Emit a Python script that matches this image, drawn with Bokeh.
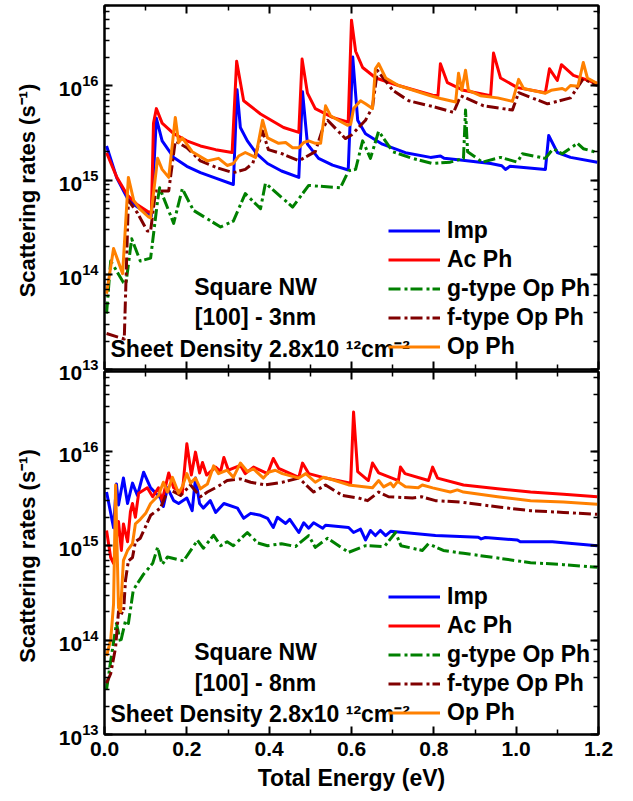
from bokeh.plotting import figure
from bokeh.models import (LinearAxis, LogAxis, FixedTicker, LogTicker, PrintfTickFormatter,
                          Legend, LegendItem, Label, Range1d)
from bokeh.layouts import column
from bokeh.embed import file_html
from bokeh.resources import INLINE

# ---------------- data (energy in eV, rate in 1/s) ----------------
# Top panel: [100] - 3nm
top_imp_e = [0.005, 0.03, 0.056, 0.08, 0.107, 0.114, 0.126, 0.14, 0.168, 0.2, 0.233, 0.27, 0.313,
             0.322, 0.33, 0.347, 0.37, 0.396, 0.43, 0.472, 0.481, 0.493, 0.52, 0.554, 0.592, 0.603,
             0.615, 0.634, 0.675, 0.731, 0.792, 0.816, 0.825, 0.87, 0.938, 0.965, 0.974, 0.985,
             1.071, 1.079, 1.10, 1.132, 1.197]
top_imp_r = [2.3e15, 1.05e15, 6.4e14, 5.2e14, 4.4e14, 4.2e14, 4.5e15, 2.6e15, 1.74e15, 1.4e15,
             1.2e15, 1.05e15, 9.0e14, 9.0e15, 3.6e15, 2.6e15, 1.9e15, 1.5e15, 1.25e15, 1.07e15,
             8.6e15, 2.4e15, 1.7e15, 1.44e15, 1.28e15, 2.0e16, 4.3e15, 3.1e15, 2.4e15, 1.95e15,
             1.74e15, 1.8e15, 1.7e15, 1.62e15, 1.5e15, 1.42e15, 1.3e15, 1.4e15, 1.3e15, 2.96e15,
             1.96e15, 1.74e15, 1.55e15]

top_ac_e = [0.005, 0.03, 0.056, 0.08, 0.107, 0.114, 0.119, 0.126, 0.14, 0.168, 0.2, 0.233, 0.27,
            0.31, 0.321, 0.338, 0.379, 0.435, 0.472, 0.48, 0.493, 0.512, 0.554, 0.592, 0.60, 0.61,
            0.627, 0.659, 0.714, 0.797, 0.81, 0.816, 0.833, 0.872, 0.938, 0.945, 0.962, 1.003,
            1.071, 1.081, 1.10, 1.11, 1.139, 1.197]
top_ac_r = [1.95e15, 1.07e15, 6.9e14, 5.5e14, 4.6e14, 4.6e14, 4.0e15, 5.7e15, 4.0e15, 3.1e15,
            2.6e15, 2.3e15, 2.1e15, 1.96e15, 1.8e16, 6.9e15, 5.0e15, 3.6e15, 3.2e15, 1.9e16,
            8.3e15, 5.7e15, 4.6e15, 4.1e15, 4.9e16, 2.3e16, 1.55e16, 1.2e16, 1.0e16, 7.9e15,
            7.8e15, 1.7e16, 1.07e16, 8.9e15, 7.8e15, 2.2e16, 1.2e16, 9.5e15, 8.4e15, 1.5e16,
            1.13e16, 1.66e16, 1.28e16, 1.05e16]

top_g_e = [0.005, 0.015, 0.046, 0.052, 0.066, 0.087, 0.112, 0.129, 0.134, 0.168, 0.189, 0.216,
           0.282, 0.313, 0.342, 0.379, 0.391, 0.457, 0.496, 0.573, 0.593, 0.61, 0.627, 0.646,
           0.666, 0.70, 0.748, 0.797, 0.84, 0.872, 0.877, 0.882, 0.918, 0.962, 1.003, 1.015,
           1.071, 1.09, 1.112, 1.149, 1.163, 1.197]
top_g_r = [3.9e13, 1.4e14, 8.3e13, 8.0e13, 2.4e14, 1.4e14, 1.5e14, 6.1e14, 8.3e14, 3.5e14,
           8.1e14, 4.8e14, 3.2e14, 3.7e14, 7.2e14, 5.0e14, 9.3e14, 5.2e14, 8.8e14, 8.3e14,
           1.26e15, 1.3e15, 2.6e15, 1.7e15, 3.3e15, 2.0e15, 1.7e15, 1.5e15, 1.55e15, 1.7e15,
           5.5e15, 2.0e15, 1.55e15, 1.74e15, 1.55e15, 1.9e15, 1.7e15, 2.15e15, 1.9e15, 2.45e15,
           2.15e15, 1.96e15]

top_f_e = [0.005, 0.048, 0.058, 0.08, 0.104, 0.112, 0.124, 0.156, 0.172, 0.2, 0.233, 0.274, 0.313,
           0.342, 0.36, 0.384, 0.398, 0.432, 0.472, 0.512, 0.53, 0.542, 0.585, 0.60, 0.634, 0.651,
           0.663, 0.70, 0.739, 0.804, 0.848, 0.865, 0.921, 0.991, 1.006, 1.076, 1.132, 1.163, 1.197]
top_f_r = [2.4e13, 2.1e13, 6.1e14, 4.5e14, 2.9e14, 2.9e14, 7.7e14, 7.7e14, 2.6e15, 2.2e15,
           1.6e15, 1.35e15, 1.2e15, 1.3e15, 1.5e15, 3.3e15, 2.1e15, 1.9e15, 1.6e15, 2.0e15,
           3.5e15, 4.3e15, 2.75e15, 3.0e15, 4.3e15, 5.9e15, 1.44e16, 8.9e15, 6.9e15, 5.9e15,
           5.2e15, 7.8e15, 6.1e15, 5.5e15, 8.4e15, 6.4e15, 7.4e15, 1.18e16, 1.0e16]

top_op_e = [0.005, 0.022, 0.044, 0.058, 0.071, 0.085, 0.107, 0.112, 0.129, 0.14, 0.156, 0.172,
            0.18, 0.189, 0.213, 0.25, 0.277, 0.298, 0.313, 0.326, 0.342, 0.367, 0.384, 0.396,
            0.423, 0.44, 0.457, 0.472, 0.484, 0.496, 0.512, 0.525, 0.537, 0.549, 0.568, 0.59,
            0.598, 0.605, 0.622, 0.634, 0.651, 0.658, 0.666, 0.683, 0.714, 0.792, 0.816, 0.84,
            0.853, 0.86, 0.868, 0.877, 0.884, 0.913, 0.955, 0.991, 1.006, 1.018, 1.071, 1.085,
            1.112, 1.12, 1.132, 1.15, 1.163, 1.173, 1.197]
top_op_r = [6.3e13, 1.9e14, 1.03e14, 1.07e15, 6.1e14, 5.0e14, 4.1e14, 4.0e14, 1.7e15, 1.3e15,
            1.07e15, 4.6e15, 2.5e15, 2.8e15, 2.0e15, 1.6e15, 1.7e15, 1.43e15, 1.5e15, 1.8e15,
            1.96e15, 1.74e15, 4.3e15, 2.8e15, 2.45e15, 2.5e15, 2.2e15, 2.2e15, 2.5e15, 2.6e15,
            2.45e15, 2.45e15, 6.1e15, 4.8e15, 4.3e15, 3.8e15, 3.9e15, 5.7e15, 6.9e15, 6.4e15,
            5.7e15, 1.5e16, 1.7e16, 1.2e16, 1.0e16, 7.8e15, 7.3e15, 6.9e15, 6.7e15, 1.35e16,
            8.9e15, 1.45e16, 8.9e15, 7.8e15, 7.4e15, 6.8e15, 1.16e16, 9.3e15, 8.3e15, 8.9e15,
            9.3e15, 8.9e15, 1.0e16, 9.8e15, 1.75e16, 1.2e16, 1.05e16]

# Bottom panel: [100] - 8nm
bot_imp_e = [0.005, 0.022, 0.029, 0.034, 0.046, 0.056, 0.068, 0.08, 0.095, 0.112, 0.136, 0.143,
             0.153, 0.168, 0.18, 0.2, 0.213, 0.221, 0.231, 0.24, 0.257, 0.27, 0.29, 0.323, 0.338,
             0.355, 0.379, 0.396, 0.41, 0.42, 0.44, 0.45, 0.472, 0.484, 0.496, 0.508, 0.53,
             0.537, 0.593, 0.605, 0.622, 0.634, 0.646, 0.658, 0.67, 0.683, 0.695, 0.804, 0.908,
             0.915, 0.925, 1.003, 1.01, 1.088, 1.197]
bot_imp_r = [3.7e15, 1.55e15, 4.5e15, 2.7e15, 5.2e15, 2.8e15, 4.6e15, 3.4e15, 6.0e15, 4.1e15,
             3.2e15, 2.6e15, 4.1e15, 3.0e15, 2.8e15, 3.2e15, 2.35e15, 5.2e15, 2.8e15, 2.5e15,
             3.0e15, 2.25e15, 2.8e15, 2.5e15, 1.95e15, 2.2e15, 2.1e15, 1.95e15, 1.56e15, 2.0e15,
             1.72e15, 1.9e15, 1.38e15, 1.75e15, 1.53e15, 1.75e15, 1.53e15, 1.65e15, 1.56e15,
             1.38e15, 1.5e15, 1.15e15, 1.45e15, 1.28e15, 1.45e15, 1.28e15, 1.42e15, 1.28e15,
             1.23e15, 1.18e15, 1.22e15, 1.15e15, 1.1e15, 1.1e15, 1.0e15]

bot_ac_e = [0.005, 0.015, 0.022, 0.034, 0.041, 0.046, 0.056, 0.063, 0.068, 0.075, 0.083, 0.104,
            0.117, 0.131, 0.14, 0.156, 0.168, 0.189, 0.2, 0.211, 0.221, 0.231, 0.238, 0.248, 0.27,
            0.282, 0.29, 0.301, 0.33, 0.342, 0.362, 0.396, 0.41, 0.423, 0.472, 0.481, 0.496,
            0.537, 0.598, 0.605, 0.615, 0.641, 0.651, 0.666, 0.714, 0.719, 0.73, 0.787, 0.797,
            0.809, 0.872, 0.955, 1.035, 1.115, 1.197]
bot_ac_r = [1.45e15, 7.5e14, 6.5e14, 1.8e15, 8.9e14, 1.7e15, 1.1e15, 2.3e15, 2.8e15, 2.0e15,
            3.6e15, 4.1e15, 3.3e15, 4.1e15, 3.0e15, 5.9e15, 4.1e15, 3.6e15, 1.2e16, 5.6e15,
            9.8e15, 5.9e15, 7.6e15, 5.6e15, 6.8e15, 6.1e15, 8.6e15, 6.3e15, 7.1e15, 5.8e15,
            6.8e15, 5.8e15, 8.4e15, 6.6e15, 5.3e15, 7.5e15, 5.8e15, 5.2e15, 4.6e15, 2.6e16,
            6.1e15, 4.9e15, 7.5e15, 5.9e15, 4.9e15, 6.8e15, 5.8e15, 4.9e15, 6.8e15, 5.2e15,
            4.4e15, 4.0e15, 3.7e15, 3.5e15, 3.3e15]

bot_g_e = [0.005, 0.015, 0.029, 0.039, 0.051, 0.058, 0.07, 0.095, 0.117, 0.129, 0.14, 0.153,
           0.192, 0.226, 0.24, 0.265, 0.282, 0.298, 0.313, 0.347, 0.372, 0.396, 0.43, 0.464, 0.496,
           0.512, 0.542, 0.593, 0.634, 0.68, 0.707, 0.72, 0.772, 0.787, 0.823, 0.872, 0.955,
           1.035, 1.115, 1.197]
bot_g_r = [3.0e13, 6.0e13, 1.5e14, 9.5e13, 1.6e14, 1.5e14, 3.4e14, 5.0e14, 6.5e14, 9.6e14,
           6.3e14, 7.6e14, 6.9e14, 1.14e15, 9.4e14, 1.29e15, 1.0e15, 1.1e15, 1.0e15, 1.38e15,
           1.07e15, 1.0e15, 1.05e15, 9.8e14, 1.28e15, 9.6e14, 1.2e15, 8.5e14, 1.0e15, 9.8e14,
           1.38e15, 1.0e15, 8.9e14, 1.05e15, 8.9e14, 8.3e14, 7.4e14, 6.6e14, 6.3e14, 5.9e14]

bot_f_e = [0.005, 0.015, 0.027, 0.034, 0.046, 0.051, 0.058, 0.068, 0.075, 0.087, 0.112, 0.136,
           0.153, 0.165, 0.185, 0.209, 0.233, 0.25, 0.274, 0.298, 0.33, 0.355, 0.39, 0.432, 0.472,
           0.508, 0.537, 0.578, 0.617, 0.639, 0.666, 0.69, 0.748, 0.77, 0.804, 0.865, 0.962,
           1.035, 1.115, 1.197]
bot_f_r = [3.5e13, 4.4e13, 8.4e13, 2.0e14, 1.9e14, 4.3e14, 6.9e14, 7.5e14, 1.1e15, 1.2e15,
           2.1e15, 2.5e15, 3.8e15, 3.8e15, 3.4e15, 4.4e15, 3.3e15, 3.7e15, 4.2e15, 4.9e15,
           5.1e15, 4.7e15, 4.4e15, 4.7e15, 5.2e15, 3.7e15, 4.4e15, 3.4e15, 3.2e15, 3.0e15,
           3.7e15, 3.3e15, 3.2e15, 3.3e15, 3.0e15, 2.9e15, 2.55e15, 2.35e15, 2.25e15, 2.15e15]

bot_op_e = [0.005, 0.015, 0.022, 0.027, 0.034, 0.039, 0.046, 0.056, 0.068, 0.075, 0.087, 0.1,
            0.112, 0.131, 0.143, 0.153, 0.165, 0.18, 0.189, 0.2, 0.209, 0.221, 0.233, 0.25,
            0.265, 0.277, 0.298, 0.313, 0.33, 0.347, 0.362, 0.386, 0.398, 0.415, 0.432, 0.472,
            0.489, 0.512, 0.532, 0.554, 0.593, 0.651, 0.666, 0.678, 0.695, 0.702, 0.712, 0.731,
            0.762, 0.772, 0.797, 0.84, 0.857, 0.872, 0.955, 1.035, 1.115, 1.197]
bot_op_r = [6.8e13, 1.0e14, 2.4e14, 4.4e15, 2.2e14, 2.0e14, 7.0e14, 8.9e14, 1.05e15, 1.7e15,
            1.9e15, 2.2e15, 2.8e15, 3.4e15, 4.7e15, 3.7e15, 5.3e15, 3.6e15, 4.2e15, 5.8e15,
            4.6e15, 5.2e15, 4.0e15, 4.5e15, 7.0e15, 5.8e15, 6.3e15, 5.3e15, 7.5e15, 6.1e15,
            6.5e15, 5.2e15, 6.0e15, 6.3e15, 5.8e15, 5.2e15, 5.8e15, 4.7e15, 5.3e15, 5.0e15,
            4.4e15, 4.1e15, 4.9e15, 4.2e15, 4.6e15, 4.2e15, 4.8e15, 4.2e15, 4.1e15, 4.4e15,
            4.1e15, 3.7e15, 3.9e15, 3.7e15, 3.3e15, 3.0e15, 2.9e15, 2.75e15]

legend_labels = ["Imp", "Ac Ph", "g-type Op Ph", "f-type Op Ph", "Op Ph"]
panel_texts = [["Square NW", "[100] - 3nm", "Sheet Density 2.8x10 \u00b9\u00b2cm\u207b\u00b2"],
               ["Square NW", "[100] - 8nm", "Sheet Density 2.8x10 \u00b9\u00b2cm\u207b\u00b2"]]
x_major_ticks = [0.0, 0.2, 0.4, 0.6, 0.8, 1.0, 1.2]
x_minor_ticks = [0.1, 0.3, 0.5, 0.7, 0.9, 1.1]
y_title = "Scattering rates  (s\u207b\u00b9)"
x_title = "Total Energy (eV)"

FONT = "Liberation Sans"
COLORS = ["#0000FF", "#FF0000", "#008000", "#800000", "#FF8000"]
DASHES = ["solid", "solid", "12 4 3 3", "12 4 3 3", "solid"]


def style_axis(ax, labels=True):
    ax.axis_line_color = "black"
    ax.axis_line_width = 2
    ax.major_tick_in = 8
    ax.major_tick_out = 0
    ax.minor_tick_in = 5
    ax.minor_tick_out = 0
    ax.major_tick_line_width = 2
    ax.minor_tick_line_width = 1.5
    ax.major_tick_line_color = "black"
    ax.minor_tick_line_color = "black"
    if labels:
        ax.major_label_text_font = FONT
        ax.major_label_text_font_style = "bold"
        ax.major_label_text_font_size = "21px"
        ax.major_label_text_color = "black"
        ax.major_label_standoff = 6
    else:
        ax.major_label_text_font_size = "1px"
        ax.major_label_text_alpha = 0
        ax.major_label_standoff = 0


def x_ticker():
    return FixedTicker(ticks=x_major_ticks, minor_ticks=x_minor_ticks)


def make_panel(series, texts, height, bottom_labels, min_top, min_bottom, legend_y):
    p = figure(width=630, height=height, y_axis_type="log",
               x_range=Range1d(0, 1.2), y_range=Range1d(1e13, 7e16),
               output_backend="svg", toolbar_location=None,
               min_border_left=104, min_border_right=32, min_border_top=min_top,
               min_border_bottom=min_bottom)
    p.xgrid.visible = False
    p.ygrid.visible = False
    p.outline_line_color = "black"
    p.outline_line_width = 2
    p.background_fill_color = "white"

    p.xaxis.ticker = x_ticker()
    style_axis(p.xaxis[0], labels=bottom_labels)
    if bottom_labels:
        p.xaxis.formatter = PrintfTickFormatter(format="%.1f")
        p.xaxis.major_label_standoff = 7
        p.xaxis.axis_label = x_title
        p.xaxis.axis_label_text_font = FONT
        p.xaxis.axis_label_text_font_style = "bold"
        p.xaxis.axis_label_text_font_size = "23px"
        p.xaxis.axis_label_text_color = "black"
        p.xaxis.axis_label_standoff = 6
    style_axis(p.yaxis[0], labels=True)
    p.yaxis.axis_label = y_title
    p.yaxis.axis_label_text_font = FONT
    p.yaxis.axis_label_text_font_style = "bold"
    p.yaxis.axis_label_text_font_size = "22px"
    p.yaxis.axis_label_text_color = "black"
    p.yaxis.axis_label_standoff = 16

    top_ax = LinearAxis(ticker=x_ticker())
    style_axis(top_ax, labels=False)
    p.add_layout(top_ax, "above")
    right_ax = LogAxis(ticker=LogTicker())
    style_axis(right_ax, labels=False)
    p.add_layout(right_ax, "right")

    renderers = []
    for (xs, ys), c, d in zip(series, COLORS, DASHES):
        r = p.line(xs, ys, line_color=c, line_width=3, line_dash=d, line_join="round")
        renderers.append(r)

    items = [LegendItem(label=lab, renderers=[r]) for lab, r in zip(legend_labels, renderers)]
    leg = Legend(items=items, location=(284, legend_y), padding=0, margin=0, spacing=2,
                 glyph_width=52, glyph_height=23, label_height=23, label_standoff=7,
                 label_text_font=FONT, label_text_font_style="bold",
                 label_text_font_size="23px", label_text_color="black",
                 background_fill_alpha=0, border_line_alpha=0)
    p.add_layout(leg)

    for x, y, t, al in [(0.367, 7.4e13, texts[0], "center"),
                        (0.367, 3.55e13, texts[1], "center"),
                        (0.0146, 1.66e13, texts[2], "left")]:
        p.add_layout(Label(x=x, y=y, text=t, text_align=al, text_baseline="middle",
                           text_font=FONT, text_font_style="bold", text_font_size="23px",
                           text_color="black"))
    return p


top_series = [(top_imp_e, top_imp_r), (top_ac_e, top_ac_r), (top_g_e, top_g_r),
              (top_f_e, top_f_r), (top_op_e, top_op_r)]
bot_series = [(bot_imp_e, bot_imp_r), (bot_ac_e, bot_ac_r), (bot_g_e, bot_g_r),
              (bot_f_e, bot_f_r), (bot_op_e, bot_op_r)]

p1 = make_panel(top_series, panel_texts[0], 385, False, 5, 16, 9)
p2 = make_panel(bot_series, panel_texts[1], 431, True, 2, 66, 8)
p2.border_fill_alpha = 0
p2.margin = (-16, 0, 0, 0)

layout = column(p1, p2, spacing=0)
open("out.html", "w").write(file_html(layout, INLINE))
